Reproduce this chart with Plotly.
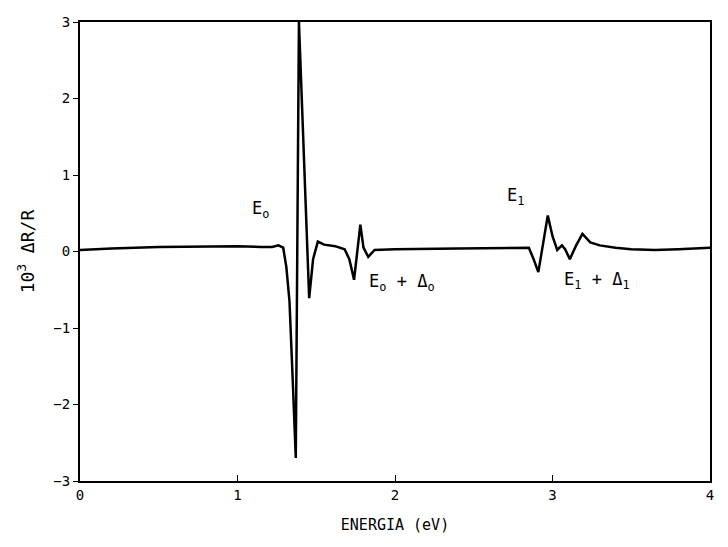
import plotly.graph_objects as go

energy = [0.0, 0.2, 0.5, 0.8, 1.0, 1.15, 1.22, 1.26, 1.29, 1.31, 1.33, 1.35, 1.37,
          1.39, 1.455, 1.48, 1.51, 1.55, 1.62, 1.68, 1.71, 1.74, 1.76, 1.78, 1.80,
          1.83, 1.87, 2.0, 2.4, 2.8, 2.85, 2.88, 2.91, 2.94, 2.97, 3.0, 3.03, 3.06,
          3.08, 3.11, 3.15, 3.19, 3.24, 3.3, 3.4, 3.5, 3.65, 3.8, 4.0]
dR = [0.02, 0.04, 0.06, 0.07, 0.07, 0.06, 0.06, 0.08, 0.05, -0.2, -0.65, -1.65, -2.70,
      3.0, -0.61, -0.1, 0.13, 0.09, 0.07, 0.03, -0.1, -0.37, 0.0, 0.35, 0.05,
      -0.07, 0.02, 0.03, 0.04, 0.05, 0.05, -0.1, -0.27, 0.1, 0.47, 0.2, 0.02, 0.08,
      0.03, -0.1, 0.08, 0.23, 0.12, 0.08, 0.05, 0.03, 0.02, 0.03, 0.05]

x_ticks = [0, 1, 2, 3, 4]
y_ticks = [-3, -2, -1, 0, 1, 2, 3]

labels = ["E<sub>o</sub>", "E<sub>o</sub> + Δ<sub>o</sub>", "E<sub>1</sub>", "E<sub>1</sub> + Δ<sub>1</sub>"]
label_x = [1.08, 1.82, 2.70, 3.06]
label_y = [0.55, -0.40, 0.72, -0.38]

font = "DejaVu Sans Mono"

fig = go.Figure()
fig.add_trace(go.Scatter(x=energy, y=dR, mode="lines",
                         line=dict(color="black", width=2.5), showlegend=False))

for t, lx, ly in zip(labels, label_x, label_y):
    fig.add_annotation(x=lx, y=ly, text=t, showarrow=False, xanchor="left",
                       font=dict(family=font, size=17, color="black"))

fig.update_layout(
    width=712, height=531,
    margin=dict(l=72, r=6, t=10, b=58),
    paper_bgcolor="white", plot_bgcolor="white",
    font=dict(family=font, size=14, color="black"),
)
fig.update_xaxes(range=[0, 4], tickvals=x_ticks, showgrid=False, zeroline=False,
                 showline=True, linecolor="black", linewidth=2, mirror=True,
                 ticks="inside", ticklen=6, tickcolor="black",
                 title=dict(text="ENERGIA (eV)", font=dict(family=font, size=15), standoff=18))
fig.update_yaxes(range=[-3, 3], tickvals=y_ticks, showgrid=False, zeroline=False,
                 showline=True, linecolor="black", linewidth=2, mirror=True,
                 ticks="outside", ticklen=5, tickcolor="black",
                 title=dict(text="10<sup>3</sup> ΔR/R", font=dict(family=font, size=18), standoff=14))

fig.write_html("out.html")
